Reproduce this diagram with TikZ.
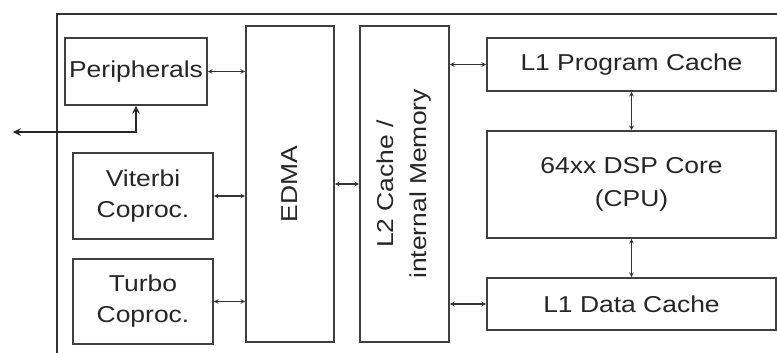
\documentclass[tikz,border=0pt]{standalone}
\usepackage{fontspec}
\setmainfont[FakeStretch=1.15]{Liberation Sans}
\tikzset{
  blok/.style={draw=black!75, line width=1.6pt, text=black!85, align=center,
    inner sep=0pt, font=\fontsize{23}{31}\selectfont},
  pijl/.style={<->, line width=1.1pt, black!80},
}
\begin{document}
\begin{tikzpicture}[>=stealth, x=1pt, y=-1pt]
      \useasboundingbox (0,0) rectangle (777,353);

        % Kader
        \draw[line width=1.8pt, black!80] (57,353) -- (57,14) -- (777,14);

        % Randapparatuur en coprocessoren
        \node[blok, minimum width=142pt, minimum height=67pt] (periph) at (136,71.5) {Peripherals};
        \node[blok, minimum width=140pt, minimum height=86pt] (viterbi) at (143,196) {Viterbi\\Coproc.};
        \node[blok, minimum width=140pt, minimum height=85pt] (turbo) at (143,301.5) {Turbo\\Coproc.};

        % EDMA en L2
        \node[blok, minimum width=88pt, minimum height=316pt] (edma) at (290,184) {};
        \node[rotate=90, text=black!85, font=\fontsize{23}{31}\selectfont] at (edma) {EDMA};
        \node[blok, minimum width=89pt, minimum height=316pt] (l2) at (404.5,184) {};
        \node[rotate=90, align=center, text=black!85, font=\fontsize{23}{33}\selectfont] at (l2) {L2 Cache /\\internal Memory};

        % L1 en kern
        \node[blok, minimum width=289pt, minimum height=53pt] (l1p) at (631.5,64.5) {L1 Program Cache};
        \node[blok, minimum width=289pt, minimum height=107pt, font=\fontsize{23}{33}\selectfont] (core) at (631.5,184.5) {64xx DSP Core\\(CPU)};
        \node[blok, minimum width=289pt, minimum height=52pt] (l1d) at (631.5,304) {L1 Data Cache};

        % Externe aansluiting
        \coordinate (ext) at (13,132);
        \draw[<->, line width=2.4pt, black!85] (ext) -| (periph.south);

        % Verbindingen
        \draw[pijl] (periph.east) -- (periph.east -| edma.west);
        \draw[pijl] (viterbi.east) -- (viterbi.east -| edma.west);
        \draw[pijl] (turbo.east) -- (turbo.east -| edma.west);
        \draw[pijl] (edma.east) -- (l2.west);
        \draw[pijl] (l1p.west -| l2.east) -- (l1p.west);
        \draw[pijl] (l1d.west -| l2.east) -- (l1d.west);
        \draw[pijl] (l1p.south) -- (core.north);
        \draw[pijl] (core.south) -- (l1d.north);

      \end{tikzpicture}
\end{document}
